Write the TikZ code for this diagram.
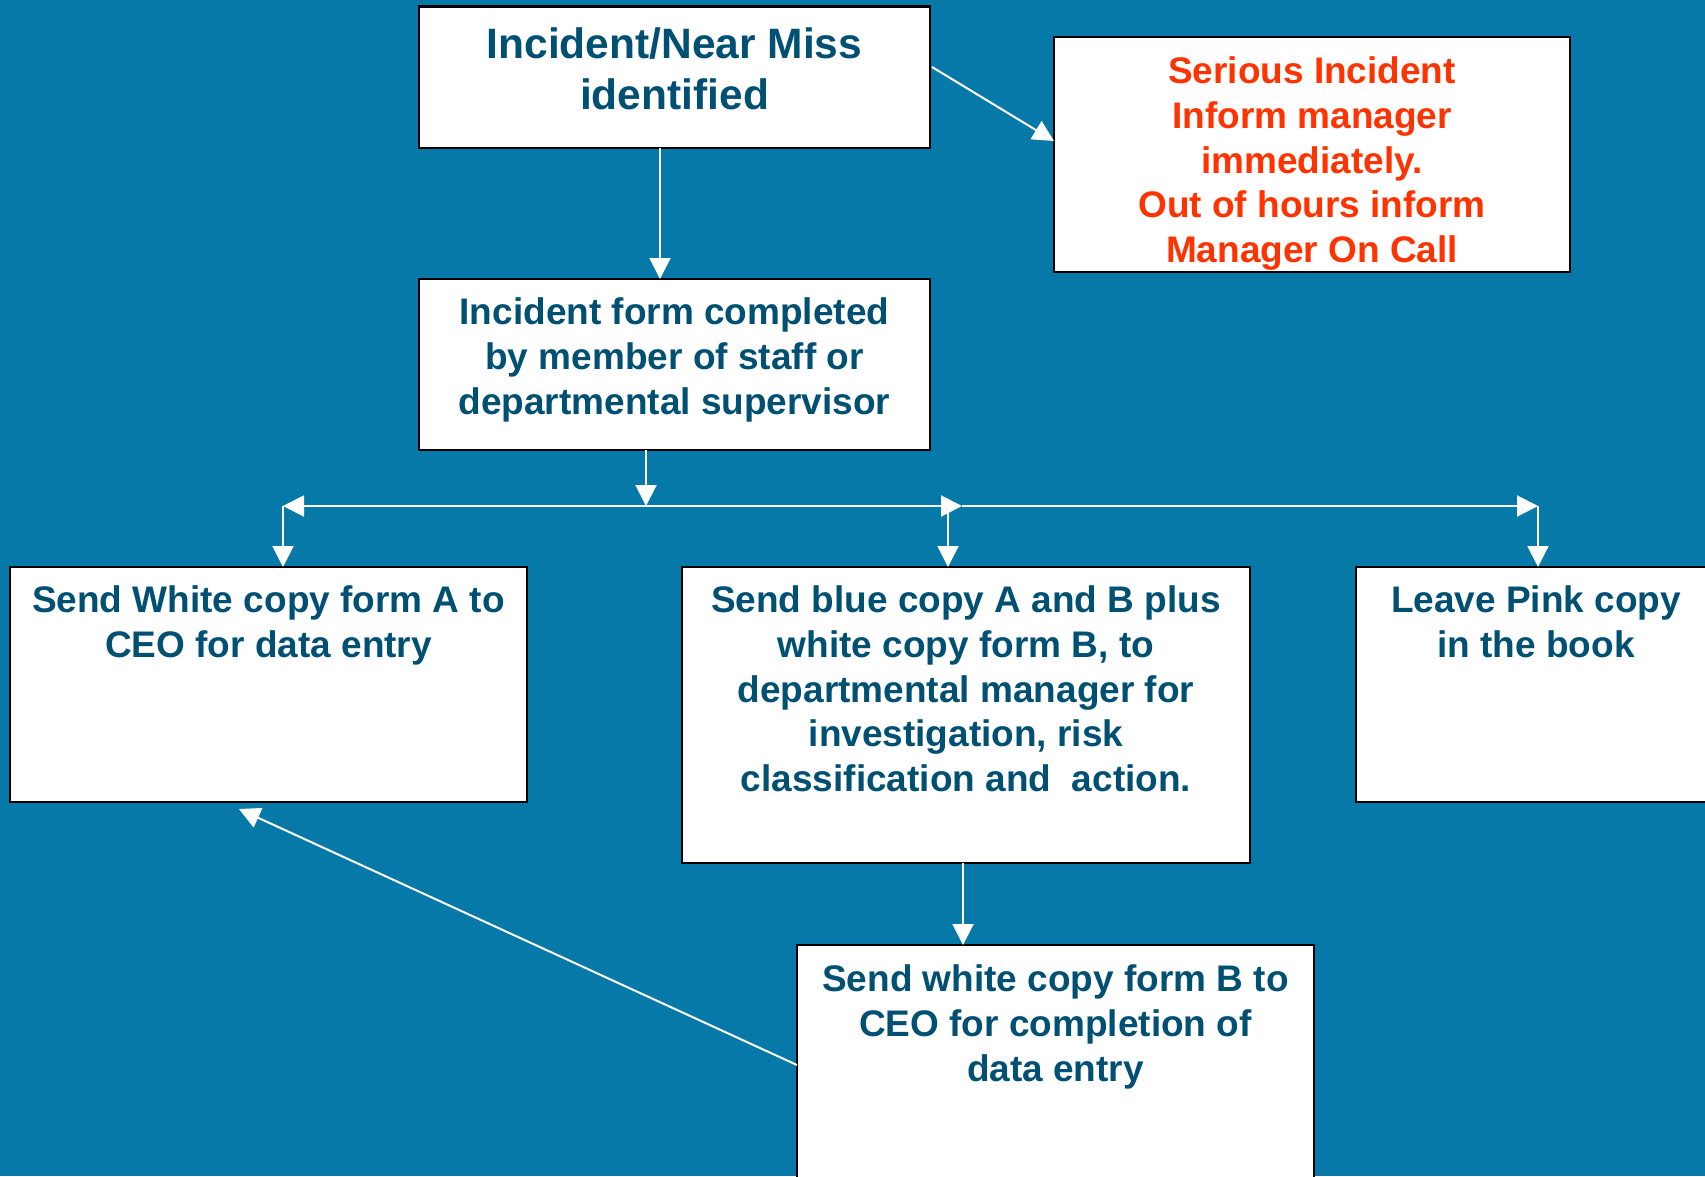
\documentclass[tikz,border=0pt]{standalone}
\usepackage{fontspec}
\setmainfont{Liberation Sans}
\usetikzlibrary{arrows.meta,calc}

\definecolor{bg}{RGB}{6,121,168}
\definecolor{ink}{RGB}{0,80,115}
\definecolor{alert}{RGB}{255,51,0}

\tikzset{
  box/.style={draw=black, line width=2.5pt, fill=white, rectangle,
    inner sep=0pt, outer sep=0pt, anchor=north west},
  conn/.style={draw=white, line width=2pt,
    -{Triangle[length=21pt,width=21pt]}, white},
  txt/.style={align=center, font=\fontsize{37}{44.8}\selectfont\bfseries,
    text=ink, inner sep=0pt, anchor=north},
  bigtxt/.style={txt, font=\fontsize{42.5}{51}\selectfont\bfseries},
}

\begin{document}
\begin{tikzpicture}[x=1pt, y=-1pt]
  % canvas
  \path[use as bounding box, fill=bg] (0,0) rectangle (1705,1176);
  \clip (0,0) rectangle (1705,1176);

  % boxes
  \node[box, minimum width=511pt, minimum height=141.5pt] (start)   at (419,6.5) {};
  \node[box, minimum width=516pt, minimum height=235pt]   (serious) at (1054,37) {};
  \node[box, minimum width=511pt, minimum height=171pt]   (form)    at (419,279) {};
  \node[box, minimum width=517pt, minimum height=235pt]   (copyA)   at (10,567) {};
  \node[box, minimum width=568pt, minimum height=296pt]   (blue)    at (682,567) {};
  \node[box, minimum width=360pt, minimum height=235pt]   (pink)    at (1356,567) {};
  \node[box, minimum width=517pt, minimum height=260pt]   (copyB)   at (797,945) {};

  % box texts
  \node[bigtxt] (startT) at ($(start.north)+(0,21)$)
    {Incident/Near Miss\\identified};
  \node[txt, text=alert] (seriousT) at ($(serious.north)+(0,19.5)$)
    {Serious Incident\\Inform manager\\immediately.\\Out of hours inform\\Manager On Call};
  \node[txt] (formT) at ($(form.north)+(0,18.5)$)
    {Incident form completed\\by member of staff or\\departmental supervisor};
  \node[txt] (copyAT) at ($(copyA.north)+(0,18.5)$)
    {Send White copy form A to\\CEO for data entry};
  \node[txt] (blueT) at ($(blue.north)+(0,18.5)$)
    {Send blue copy A and B plus\\white copy form B, to\\departmental manager for\\investigation, risk\\classification and\ \ action.};
  \node[txt] (pinkT) at ($(pink.north)+(0,18.5)$)
    {Leave Pink copy\\in the book};
  \node[txt] (copyBT) at ($(copyB.north)+(0,19.5)$)
    {Send white copy form B to\\CEO for completion of\\data entry};

  % routing points
  \coordinate (down1)  at (660,0);
  \coordinate (join)   at (646,506);
  \coordinate (left)   at (283,506);
  \coordinate (midtip) at (962,506);
  \coordinate (midx)   at (948,506);
  \coordinate (right)  at (1538,506);
  \coordinate (down2)  at (963,0);
  \coordinate (outA)   at (932,67);
  \coordinate (inS)    at (1054,141);
  \coordinate (outB)   at (797,1065);
  \coordinate (backA)  at (239,809);

  % connectors
  \draw[conn] (start.south -| down1) -- (form.north -| down1);
  \draw[conn] (outA) -- (inS);
  \draw[conn] (form.south -| join) -- (join);
  \draw[conn] (join) -- (left);
  \draw[conn] (join) -- (midtip);
  \draw[conn] (midtip) -- (right);
  \draw[conn] (left) -- (copyA.north -| left);
  \draw[conn] (midx) -- (blue.north -| midx);
  \draw[conn] (right) -- (pink.north -| right);
  \draw[conn] (blue.south -| down2) -- (copyB.north -| down2);
  \draw[conn] (outB) -- (backA);
\end{tikzpicture}
\end{document}
